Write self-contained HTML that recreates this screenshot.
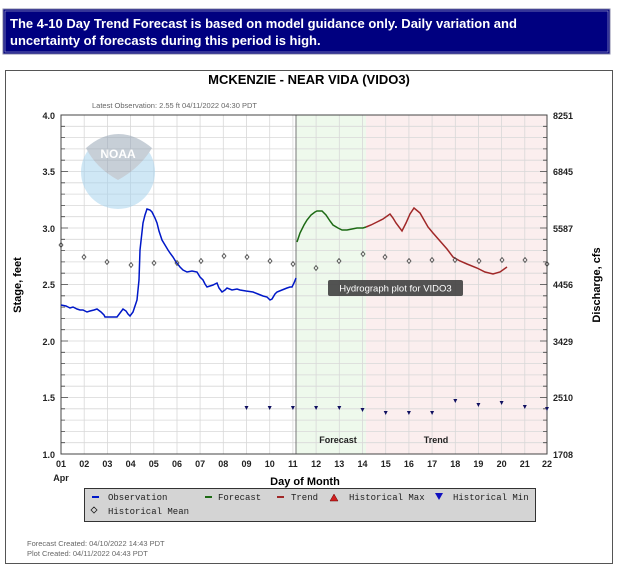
<!DOCTYPE html>
<html><head><meta charset="utf-8"><style>
html,body{margin:0;padding:0;background:#fff;width:640px;height:576px;overflow:hidden}
</style></head><body>
<svg width="640" height="576" viewBox="0 0 640 576" xmlns="http://www.w3.org/2000/svg" font-family="Liberation Sans, sans-serif">
<rect x="3" y="9" width="607" height="45" fill="#000080" stroke="#8888aa" stroke-width="1"/>
<rect x="5" y="11" width="603" height="41" fill="none" stroke="#b0b0d0" stroke-width="0.6"/>
<text x="10" y="28" fill="#fff" font-size="13" font-weight="bold">The 4-10 Day Trend Forecast is based on model guidance only. Daily variation and</text>
<text x="10" y="45" fill="#fff" font-size="13" font-weight="bold">uncertainty of forecasts during this period is high.</text>
<rect x="5.5" y="70.5" width="607" height="493" fill="#fff" stroke="#555" stroke-width="1"/>
<text x="309" y="84" text-anchor="middle" font-size="13" font-weight="bold">MCKENZIE - NEAR VIDA  (VIDO3)</text>
<text x="92" y="108" font-size="7.5" fill="#666">Latest Observation: 2.55 ft 04/11/2022 04:30 PDT</text>
<rect x="296" y="115" width="70" height="339" fill="#eef9ec"/>
<rect x="366" y="115" width="181" height="339" fill="#fbeeee"/>
<g id="grid" stroke="#d8d8d8" stroke-width="0.8">
<path d="M84.2 115V454M107.4 115V454M130.6 115V454M153.8 115V454M177 115V454M200.1 115V454M223.3 115V454M246.5 115V454M269.7 115V454M292.9 115V454M316.1 115V454M339.3 115V454M362.5 115V454M385.7 115V454M408.9 115V454M432.1 115V454M455.3 115V454M478.4 115V454M501.6 115V454M524.8 115V454"/>
<path d="M61 126.3H547M61 137.6H547M61 148.9H547M61 160.2H547M61 171.5H547M61 182.8H547M61 194.1H547M61 205.4H547M61 216.7H547M61 228H547M61 239.3H547M61 250.6H547M61 261.9H547M61 273.2H547M61 284.5H547M61 295.8H547M61 307.1H547M61 318.4H547M61 329.7H547M61 341H547M61 352.3H547M61 363.6H547M61 374.9H547M61 386.2H547M61 397.5H547M61 408.8H547M61 420.1H547M61 431.4H547M61 442.7H547"/>
</g>
<line x1="296" y1="115" x2="296" y2="454" stroke="#777" stroke-width="1"/>
<g opacity="0.55">
<circle cx="118" cy="172" r="37" fill="#a8d4ee"/>
<path d="M86 148 Q118 120 152 148 Q140 168 118 180 Q96 168 86 148Z" fill="#9aa8b8"/>
<text x="118" y="158" text-anchor="middle" font-size="12" font-weight="bold" fill="#fff">NOAA</text>
</g>
<rect x="61" y="115" width="486" height="339" fill="none" stroke="#444" stroke-width="1"/>
<g stroke="#444" stroke-width="0.8">
<path d="M61 126.3h4M61 137.6h4M61 148.9h4M61 160.2h4M61 171.5h7M61 182.8h4M61 194.1h4M61 205.4h4M61 216.7h4M61 228h7M61 239.3h4M61 250.6h4M61 261.9h4M61 273.2h4M61 284.5h7M61 295.8h4M61 307.1h4M61 318.4h4M61 329.7h4M61 341h7M61 352.3h4M61 363.6h4M61 374.9h4M61 386.2h4M61 397.5h7M61 408.8h4M61 420.1h4M61 431.4h4M61 442.7h4"/>
<path d="M547 126.3h-4M547 137.6h-4M547 148.9h-4M547 160.2h-4M547 171.5h-7M547 182.8h-4M547 194.1h-4M547 205.4h-4M547 216.7h-4M547 228h-7M547 239.3h-4M547 250.6h-4M547 261.9h-4M547 273.2h-4M547 284.5h-7M547 295.8h-4M547 307.1h-4M547 318.4h-4M547 329.7h-4M547 341h-7M547 352.3h-4M547 363.6h-4M547 374.9h-4M547 386.2h-4M547 397.5h-7M547 408.8h-4M547 420.1h-4M547 431.4h-4M547 442.7h-4"/>
</g>
<g font-size="9" font-weight="bold" fill="#222" text-anchor="end">
<text x="55" y="119">4.0</text><text x="55" y="175">3.5</text><text x="55" y="232">3.0</text><text x="55" y="288">2.5</text><text x="55" y="345">2.0</text><text x="55" y="401">1.5</text><text x="55" y="458">1.0</text>
</g>
<g font-size="9" font-weight="bold" fill="#222">
<text x="553" y="119">8251</text><text x="553" y="175">6845</text><text x="553" y="232">5587</text><text x="553" y="288">4456</text><text x="553" y="345">3429</text><text x="553" y="401">2510</text><text x="553" y="458">1708</text>
</g>
<g font-size="9" font-weight="bold" fill="#222" text-anchor="middle">
<text x="61" y="467">01</text><text x="84.2" y="467">02</text><text x="107.4" y="467">03</text><text x="130.6" y="467">04</text><text x="153.8" y="467">05</text><text x="177" y="467">06</text><text x="200.1" y="467">07</text><text x="223.3" y="467">08</text><text x="246.5" y="467">09</text><text x="269.7" y="467">10</text><text x="292.9" y="467">11</text><text x="316.1" y="467">12</text><text x="339.3" y="467">13</text><text x="362.5" y="467">14</text><text x="385.7" y="467">15</text><text x="408.9" y="467">16</text><text x="432.1" y="467">17</text><text x="455.3" y="467">18</text><text x="478.4" y="467">19</text><text x="501.6" y="467">20</text><text x="524.8" y="467">21</text><text x="547" y="467">22</text>
<text x="61" y="481">Apr</text>
</g>
<text x="305" y="485" text-anchor="middle" font-size="11" font-weight="bold">Day of Month</text>
<text transform="translate(21,285) rotate(-90)" text-anchor="middle" font-size="11" font-weight="bold">Stage, feet</text>
<text transform="translate(600,285) rotate(-90)" text-anchor="middle" font-size="11" font-weight="bold">Discharge, cfs</text>
<text x="338" y="443" text-anchor="middle" font-size="9" font-weight="bold" fill="#222">Forecast</text>
<text x="436" y="443" text-anchor="middle" font-size="9" font-weight="bold" fill="#222">Trend</text>
<polyline fill="none" stroke="#0018c8" stroke-width="1.5" points="61,305 66,306 70,308 73,307 77,309 80,310 83,310 87,312 90,311 94,310 97,309 101,312 104,315 105,317 110,317 114,317 117,317 120,313 123,309 126,311 128,314 130,316 133,312 136,303 137,300 139,280 140,250 142,232 143,223 145,215 147,209 150,210 152,212 155,218 157,223 159,231 162,240 165,245 168,250 170,253 173,257 176,262 180,267 183,270 187,272 192,271 197,272 200,277 203,280 205,284 207,287 210,286 213,285 215,284 217,283 219,288 222,292 225,290 227,288 232,290 237,289 240,290 246,291 253,292 258,294 263,296 267,297 270,300 272,299 275,294 277,292 282,290 287,288 290,287 292,287 294,283 296,278"/>
<polyline fill="none" stroke="#1d6a14" stroke-width="1.5" points="297,242 300,233 304,225 307,220 311,215 315,212 317,211 322,211 326,215 330,221 333,225 338,228 342,230 347,230 352,229 357,228 363,228 366,227"/>
<polyline fill="none" stroke="#a02828" stroke-width="1.5" points="366,227 371,225 377,222 383,219 390,214 393,218 396,223 402,231 406,223 410,214 414,208 420,213 424,220 428,227 433,233 440,241 447,249 453,257 460,261 467,264 477,268 485,272 493,274 500,272 507,267"/>
<g fill="none" stroke="#444" stroke-width="0.8">
<path d="M61,242.5l2,2.5l-2,2.5l-2,-2.5z M84,254.5l2,2.5l-2,2.5l-2,-2.5z M107,259.5l2,2.5l-2,2.5l-2,-2.5z M131,262.5l2,2.5l-2,2.5l-2,-2.5z M154,260.5l2,2.5l-2,2.5l-2,-2.5z M177,260.5l2,2.5l-2,2.5l-2,-2.5z M201,258.5l2,2.5l-2,2.5l-2,-2.5z M224,253.5l2,2.5l-2,2.5l-2,-2.5z M247,254.5l2,2.5l-2,2.5l-2,-2.5z M270,258.5l2,2.5l-2,2.5l-2,-2.5z M293,261.5l2,2.5l-2,2.5l-2,-2.5z M316,265.5l2,2.5l-2,2.5l-2,-2.5z M339,258.5l2,2.5l-2,2.5l-2,-2.5z M363,251.5l2,2.5l-2,2.5l-2,-2.5z M385,254.5l2,2.5l-2,2.5l-2,-2.5z M409,258.5l2,2.5l-2,2.5l-2,-2.5z M432,257.5l2,2.5l-2,2.5l-2,-2.5z M455,257.5l2,2.5l-2,2.5l-2,-2.5z M479,258.5l2,2.5l-2,2.5l-2,-2.5z M502,257.5l2,2.5l-2,2.5l-2,-2.5z M525,257.5l2,2.5l-2,2.5l-2,-2.5z M547,261.5l2,2.5l-2,2.5l-2,-2.5z"/>
</g>
<g fill="#101060">
<path d="M244.5,406h4l-2,4z M267.7,406h4l-2,4z M290.9,406h4l-2,4z M314.1,406h4l-2,4z M337.3,406h4l-2,4z M360.5,408h4l-2,4z M383.7,411h4l-2,4z M406.9,411h4l-2,4z M430.1,411h4l-2,4z M453.3,399h4l-2,4z M476.4,403h4l-2,4z M499.6,401h4l-2,4z M522.8,405h4l-2,4z M545,407h4l-2,4z"/>
</g>
<rect x="328" y="280" width="135" height="16" rx="2" fill="#444" opacity="0.92"/>
<text x="395.5" y="291.5" text-anchor="middle" font-size="9.5" fill="#fff">Hydrograph plot for VIDO3</text>
<rect x="84.5" y="488.5" width="451" height="33" fill="#d4d4d4" stroke="#333" stroke-width="1"/>
<g font-family="Liberation Mono, monospace" font-size="9" fill="#222">
<line x1="92" y1="497" x2="99" y2="497" stroke="#0018c8" stroke-width="2"/><text x="108" y="500">Observation</text>
<line x1="205" y1="497" x2="212" y2="497" stroke="#1d6a14" stroke-width="2"/><text x="218" y="500">Forecast</text>
<line x1="277" y1="497" x2="284" y2="497" stroke="#a02828" stroke-width="2"/><text x="291" y="500">Trend</text>
<path d="M330,501h8l-4,-7z" fill="#d02020" stroke="#600" stroke-width="0.5"/><text x="349" y="500">Historical Max</text>
<path d="M435,493h8l-4,7z" fill="#1010c0"/><text x="453" y="500">Historical Min</text>
<path d="M94,507l3,3l-3,3l-3,-3z" fill="none" stroke="#222" stroke-width="0.8"/><text x="108" y="514">Historical Mean</text>
</g>
<text x="27" y="546" font-size="7.5" fill="#666">Forecast Created: 04/10/2022 14:43 PDT</text>
<text x="27" y="556" font-size="7.5" fill="#666">Plot Created: 04/11/2022 04:43 PDT</text>
</svg>
</body></html>
